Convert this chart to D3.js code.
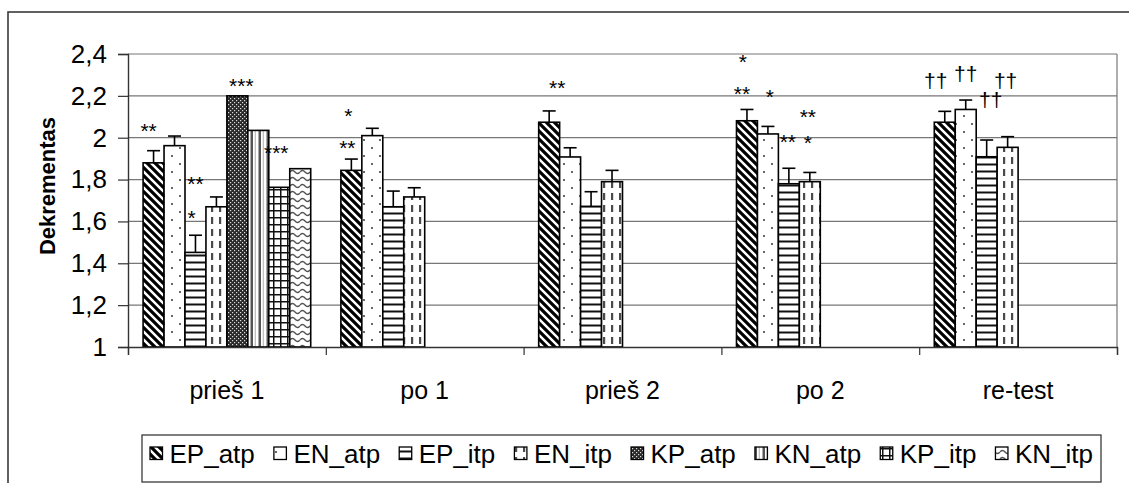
<!DOCTYPE html>
<html><head><meta charset="utf-8">
<script src="https://cdn.jsdelivr.net/npm/d3@7"></script>
<style>
body{margin:0;background:#fff}
svg{display:block}
text{font-family:"Liberation Sans",Arial,sans-serif;fill:#000}
</style>
</head><body>
<svg id="chart" width="1129" height="483"></svg>
<script>
// ---------------- data ----------------
const categories = ["prieš 1", "po 1", "prieš 2", "po 2", "re-test"];
const seriesNames = ["EP_atp", "EN_atp", "EP_itp", "EN_itp", "KP_atp", "KN_atp", "KP_itp", "KN_itp"];

const EP_atp = [1.88, 1.844, 2.074, 2.081, 2.074];
const EN_atp = [1.962, 2.01, 1.908, 2.018, 2.135];
const EP_itp = [1.452, 1.67, 1.672, 1.78, 1.909];
const EN_itp = [1.67, 1.717, 1.79, 1.79, 1.954];
const KP_atp = [2.20, null, null, null, null];
const KN_atp = [2.035, null, null, null, null];
const KP_itp = [1.763, null, null, null, null];
const KN_itp = [1.852, null, null, null, null];

const errEP_atp = [0.058, 0.054, 0.054, 0.054, 0.052];
const errEN_atp = [0.046, 0.035, 0.044, 0.036, 0.045];
const errEP_itp = [0.082, 0.075, 0.070, 0.074, 0.080];
const errEN_itp = [0.047, 0.044, 0.054, 0.044, 0.051];

const yTicks = [1, 1.2, 1.4, 1.6, 1.8, 2, 2.2, 2.4];
const yTickLabels = ["1", "1,2", "1,4", "1,6", "1,8", "2", "2,2", "2,4"];
const yTitle = "Dekrementas";

// significance marks: category, series, label, level (axis units of text baseline)
const annotCategory = [0, 0, 0, 0, 0, 1, 1, 2, 3, 3, 3, 3, 3, 3, 4, 4, 4, 4];
const annotSeries   = [0, 2, 2, 4, 6, 0, 0, 0, 0, 0, 1, 3, 2, 3, 0, 1, 2, 3];
const annotLabel    = ["**", "**", "*", "***", "***", "*", "**", "**", "*", "**", "*", "**", "**", "*", "††", "††", "††", "††"];
const annotLevel    = [2.0, 1.744, 1.583, 2.215, 1.892, 2.07, 1.919, 2.205, 2.326, 2.177, 2.16, 2.067, 1.947, 1.943, 2.239, 2.271, 2.147, 2.239];

// ---------------- layout ----------------
const values = [EP_atp, EN_atp, EP_itp, EN_itp, KP_atp, KN_atp, KP_itp, KN_itp];
const errors = [errEP_atp, errEN_atp, errEP_itp, errEN_itp, null, null, null, null];
const annotNudge = [-5, 0, -4, 4, -3, -3, -4, 8, -4, -5, 2, -2, -1, -2, -9, 0, 4, -2];

const plot = {left: 128, right: 1117, top: 54, bottom: 347};
const svg = d3.select("#chart");

const x0 = d3.scaleBand().domain(categories).range([plot.left, plot.right]).padding(0);
const x1 = d3.scaleBand().domain(seriesNames).range([0, x0.bandwidth()]).paddingInner(0).paddingOuter(0.72);
const y = d3.scaleLinear().domain([1, 2.4]).range([plot.bottom, plot.top]);

// ---------------- patterns ----------------
const defs = svg.append("defs");
function pat(id, w, h) {
  const p = defs.append("pattern").attr("id", id).attr("patternUnits", "userSpaceOnUse")
    .attr("width", w).attr("height", h);
  p.append("rect").attr("width", w).attr("height", h).attr("fill", "#fff");
  return p;
}
// EP_atp: thick diagonal stripes
let p = pat("p0", 8, 8);
p.append("path").attr("d", "M-2,-2L10,10M-2,6L2,10M6,-2L10,2").attr("stroke", "#000").attr("stroke-width", 3.2);
// EN_atp: sparse staggered dots
p = pat("p1", 16, 16);
p.append("circle").attr("cx", 4).attr("cy", 4).attr("r", 1).attr("fill", "#333");
p.append("circle").attr("cx", 12).attr("cy", 12).attr("r", 1).attr("fill", "#333");
// EP_itp: horizontal lines
p = pat("p2", 7, 7);
p.append("rect").attr("x", 0).attr("y", 2.5).attr("width", 7).attr("height", 2).attr("fill", "#111");
// EN_itp: vertical dashes
p = pat("p3", 8, 12);
p.append("rect").attr("x", 3).attr("y", 1).attr("width", 2.2).attr("height", 7).attr("fill", "#4a4a4a");
// KP_atp: dark dense hatch
p = pat("p4", 4, 4);
p.select("rect").attr("fill", "#2a2a2a");
p.append("rect").attr("x", 0).attr("y", 0).attr("width", 1.2).attr("height", 1.2).attr("fill", "#ddd");
p.append("rect").attr("x", 2).attr("y", 2).attr("width", 1.2).attr("height", 1.2).attr("fill", "#ddd");
// KN_atp: vertical lines
p = pat("p5", 8, 8);
p.append("rect").attr("x", 2.5).attr("y", 0).attr("width", 2.5).attr("height", 8).attr("fill", "#555");
p.append("rect").attr("x", 6.8).attr("y", 0).attr("width", 0.8).attr("height", 8).attr("fill", "#999");
// KP_itp: grid
p = pat("p6", 7, 7);
p.append("path").attr("d", "M0.75,0V7M0,0.75H7").attr("stroke", "#111").attr("stroke-width", 1.5);
// KN_itp: waves
p = pat("p7", 10, 7);
p.append("path").attr("d", "M0,4Q2.5,1 5,4T10,4").attr("fill", "none").attr("stroke", "#555").attr("stroke-width", 1.4);

const fills = seriesNames.map((_, i) => `url(#p${i})`);

// ---------------- frame ----------------
svg.append("rect").attr("x", 8).attr("y", 12).attr("width", 1300).attr("height", 600)
  .attr("fill", "#fff").attr("stroke", "#3a3a3a").attr("stroke-width", 1.6);

// gridlines
svg.append("g").selectAll("line").data(yTicks.slice(1)).join("line")
  .attr("x1", plot.left).attr("x2", plot.right)
  .attr("y1", d => y(d)).attr("y2", d => y(d))
  .attr("stroke", "#777").attr("stroke-width", 1.2);
// right border
svg.append("line").attr("x1", plot.right).attr("x2", plot.right).attr("y1", plot.top).attr("y2", plot.bottom)
  .attr("stroke", "#777").attr("stroke-width", 1.2);

// ---------------- bars ----------------
const barData = [];
categories.forEach((c, ci) => seriesNames.forEach((s, si) => {
  const v = values[si][ci];
  if (v != null) barData.push({c, ci, s, si, v, e: errors[si] ? errors[si][ci] : null});
}));

svg.append("g").selectAll("rect").data(barData).join("rect")
  .attr("x", d => x0(d.c) + x1(d.s))
  .attr("y", d => y(d.v))
  .attr("width", x1.bandwidth())
  .attr("height", d => y(1) - y(d.v))
  .attr("fill", d => fills[d.si])
  .attr("stroke", "#000").attr("stroke-width", 1.6);

// error bars (upper)
const eg = svg.append("g").attr("stroke", "#000").attr("stroke-width", 1.6);
barData.filter(d => d.e != null).forEach(d => {
  const cx = x0(d.c) + x1(d.s) + x1.bandwidth() / 2;
  eg.append("line").attr("x1", cx).attr("x2", cx).attr("y1", y(d.v)).attr("y2", y(d.v + d.e));
  eg.append("line").attr("x1", cx - 6.5).attr("x2", cx + 6.5).attr("y1", y(d.v + d.e)).attr("y2", y(d.v + d.e));
});

// ---------------- axes ----------------
const yAxis = d3.axisLeft(y).tickValues(yTicks).tickFormat((d, i) => yTickLabels[i]).tickSize(10).tickPadding(11);
const gy = svg.append("g").attr("transform", `translate(${plot.left},0)`).call(yAxis);
gy.select(".domain").attr("stroke", "#333").attr("stroke-width", 1.4);
gy.selectAll(".tick line").attr("stroke", "#333").attr("stroke-width", 1.2);
gy.selectAll(".tick text").attr("font-size", 26).attr("font-family", "Liberation Sans, Arial, sans-serif").attr("fill", "#000");

// category boundary ticks + baseline
const xb = d3.scaleLinear().domain([0, categories.length]).range([plot.left, plot.right]);
const xAxis = d3.axisBottom(xb).ticks(categories.length).tickFormat("").tickSize(8).tickSizeOuter(8);
const gx = svg.append("g").attr("transform", `translate(0,${plot.bottom})`).call(xAxis);
gx.select(".domain").attr("stroke", "#333").attr("stroke-width", 1.4);
gx.selectAll(".tick line").attr("stroke", "#333").attr("stroke-width", 1.2);

svg.append("g").selectAll("text").data(categories).join("text")
  .attr("x", d => x0(d) + x0.bandwidth() / 2).attr("y", 399)
  .attr("text-anchor", "middle").attr("font-size", 25).text(d => d);

// y title
svg.append("text").attr("transform", "translate(55,186) rotate(-90)")
  .attr("text-anchor", "middle").attr("font-size", 22).attr("font-weight", "bold").text(yTitle);

// ---------------- annotations ----------------
svg.append("g").selectAll("text").data(annotLabel).join("text")
  .attr("x", (d, i) => x0(categories[annotCategory[i]]) + x1(seriesNames[annotSeries[i]]) + x1.bandwidth() / 2 + annotNudge[i])
  .attr("y", (d, i) => y(annotLevel[i]))
  .attr("text-anchor", "middle").attr("font-size", 21).text(d => d);

// ---------------- legend ----------------
const lg = svg.append("g");
lg.append("rect").attr("x", 142).attr("y", 435).attr("width", 959).attr("height", 47)
  .attr("fill", "#fff").attr("stroke", "#3a3a3a").attr("stroke-width", 1.3);
const sym = 12.5, gapSym = 7, startX = 150, endX = 1093;
const items = lg.selectAll("g.item").data(seriesNames).join("g").attr("class", "item");
items.append("rect").attr("width", sym).attr("height", sym).attr("y", 447)
  .attr("fill", (d, i) => fills[i]).attr("stroke", "#000").attr("stroke-width", 1.3);
const texts = items.append("text").attr("y", 462.5).attr("font-size", 26).text(d => d);
const widths = texts.nodes().map(n => n.getComputedTextLength());
const totalW = d3.sum(widths) + seriesNames.length * (sym + gapSym);
const gapItem = (endX - startX - totalW) / (seriesNames.length - 1);
let cur = startX;
items.each(function(d, i) {
  const g = d3.select(this);
  g.select("rect").attr("x", cur);
  g.select("text").attr("x", cur + sym + gapSym);
  cur += sym + gapSym + widths[i] + gapItem;
});
</script>
</body></html>
